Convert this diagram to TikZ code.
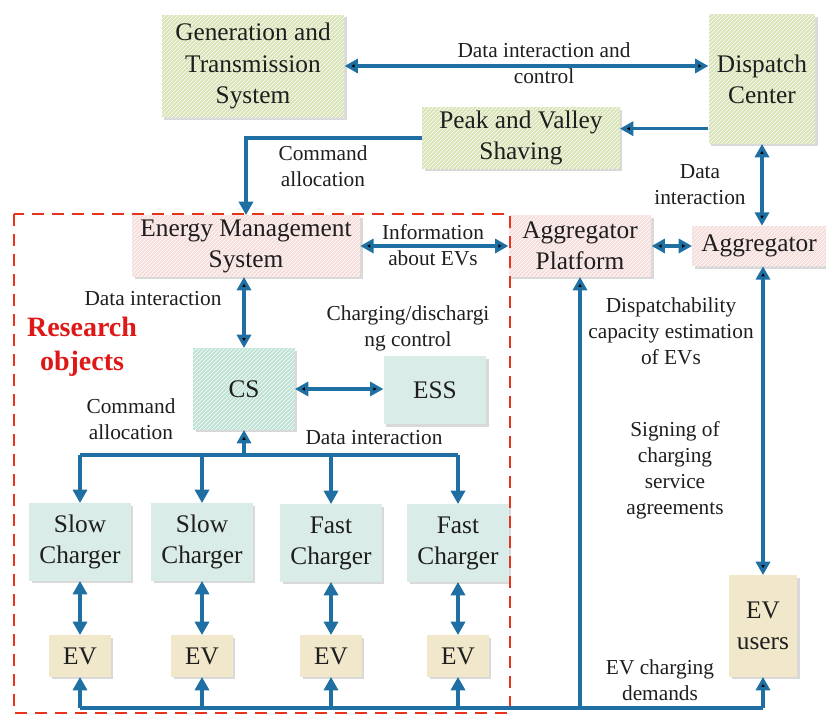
\documentclass[tikz,border=0pt]{standalone}
\usepackage{fontspec}
\setmainfont{Liberation Serif}
\usetikzlibrary{arrows.meta, shadows, patterns}

\definecolor{linkblue}{RGB}{31,111,163}
\definecolor{frame}{RGB}{232,52,30}
\definecolor{resred}{RGB}{222,24,22}
\definecolor{olivefill}{RGB}{216,228,184}
\definecolor{pinkfill}{RGB}{246,222,220}
\definecolor{csfill}{RGB}{190,226,212}
\definecolor{tealfill}{RGB}{218,236,231}
\definecolor{evfill}{RGB}{241,232,204}
\definecolor{txt}{RGB}{30,30,30}

\begin{document}
\begin{tikzpicture}[x=0.75pt, y=-0.75pt, >={Triangle[length=10pt,width=10.5pt]},
    box/.style={align=center, inner sep=1pt, text=txt, font=\fontsize{19}{23.3}\selectfont,
        drop shadow={shadow xshift=2pt, shadow yshift=-2pt, opacity=.3}},
    olivebox/.style={box, fill=olivefill, postaction={pattern=north east lines, pattern color=white}},
    pinkbox/.style={box, fill=pinkfill, postaction={pattern=north east lines, pattern color=white}},
    csbox/.style={box, fill=csfill, postaction={pattern=north east lines, pattern color=white}},
    tealbox/.style={box, fill=tealfill},
    charger/.style={tealbox, minimum width=76pt, minimum height=58pt},
    evbox/.style={box, fill=evfill, minimum width=46pt, minimum height=31pt},
    lbl/.style={align=center, text=txt, font=\fontsize{16}{19.5}\selectfont},
    link/.style={draw=linkblue, line width=2.4pt}]

\useasboundingbox (0,0) rectangle (826,717);

    \node [olivebox, minimum width=137pt, minimum height=77pt] (gts) at (253,66) {Generation and\\Transmission\\System};
    \node [olivebox, minimum width=80pt, minimum height=97pt] (dc) at (762,79) {Dispatch\\Center};
    \node [olivebox, minimum width=148pt, minimum height=46pt] (pvs) at (521,138) {Peak and Valley\\Shaving};
    \node [pinkbox, minimum width=171pt, minimum height=46pt] (ems) at (246,246) {Energy Management\\System};
    \node [pinkbox, minimum width=107pt, minimum height=46pt] (ap) at (580,246) {Aggregator\\Platform};
    \node [pinkbox, minimum width=100pt, minimum height=30pt] (agg) at (759,246) {Aggregator};
    \node [csbox, minimum width=76pt, minimum height=61pt] (cs) at (244,389) {CS};
    \node [tealbox, minimum width=77pt, minimum height=51pt] (ess) at (435,390) {ESS};

    \node [charger] (ch1) at (80,542) {Slow\\Charger};
    \node [charger] (ch2) at (202,542) {Slow\\Charger};
    \node [charger] (ch3) at (331,543) {Fast\\Charger};
    \node [charger] (ch4) at (458,543) {Fast\\Charger};
    \node [evbox] (ev1) at (80,656) {EV};
    \node [evbox] (ev2) at (202,656) {EV};
    \node [evbox] (ev3) at (331,656) {EV};
    \node [evbox] (ev4) at (458,656) {EV};
    \node [box, fill=evfill, minimum width=51pt, minimum height=76pt] (evu) at (763,626) {EV\\users};

    % labels
    \node [lbl] (lctl) at (544,63) {Data interaction and\\control};
    \node [lbl] (lcmd) at (323,166) {Command\\allocation};
    \node [lbl] (ldci) at (700,185) {Data\\interaction};
    \node [lbl] (linfo) at (433,245) {Information\\about EVs};
    \node [lbl] (lems) at (153,299) {Data interaction};
    \node [lbl] (lchg) at (408,328) {Charging/dischargi\\ng control};
    \node [lbl] (lcsc) at (131,419) {Command\\allocation};
    \node [lbl] (lcsd) at (374,438) {Data interaction};
    \node [lbl] (ldisp) at (671,331) {Dispatchability\\capacity estimation\\of EVs};
    \node [lbl] (lsign) at (675,470) {Signing of\\charging\\service\\agreements};
    \node [lbl] (ldem) at (660,680) {EV charging\\demands};
    \node [align=center, text=resred, font=\fontsize{21}{25.5}\selectfont\bfseries] (lres) at (82,347) {Research\\objects};

    \coordinate (csbus) at (244,455);
    \coordinate (evbus) at (0,708);

    \draw [frame, line width=1.5pt, dash pattern=on 9pt off 6pt] (14,214) rectangle (510,713);

 \path[link]
      (gts.east) edge[<->] (gts.east -| dc.west)
      ([yshift=7pt]pvs.east -| dc.west) edge[->] ([yshift=7pt]pvs.east)
      (dc.south) edge[<->] (dc.south |- agg.north)
      (ems.east) edge[<->] (ap.west)
      (ap.east) edge[<->] (agg.west)
      (ems.south -| cs.north) edge[<->] (cs.north)
      (cs.east) edge[<->] (cs.east -| ess.west)
      (csbus) edge[->] (cs.south)
      (agg.south -| evu.north) edge[<->] (evu.north)
      (ap.south |- evbus) edge[->] (ap.south)
      (evu.south |- evbus) edge[->] (evu.south);
    \draw [link, ->] (pvs.west) -| (ems.north);
    \draw [link] (ch1.north |- csbus) -- (ch4.north |- csbus);
    \draw [link] (ev1.south |- evbus) -- (evu.south |- evbus);
    \foreach \i in {1,...,4} {
      \draw [link, ->] (ch\i.north |- csbus) -- (ch\i.north);
      \draw [link, <->] (ch\i.south) -- (ev\i.north);
      \draw [link, ->] (ev\i.south |- evbus) -- (ev\i.south);
    }
\end{tikzpicture}
\end{document}
